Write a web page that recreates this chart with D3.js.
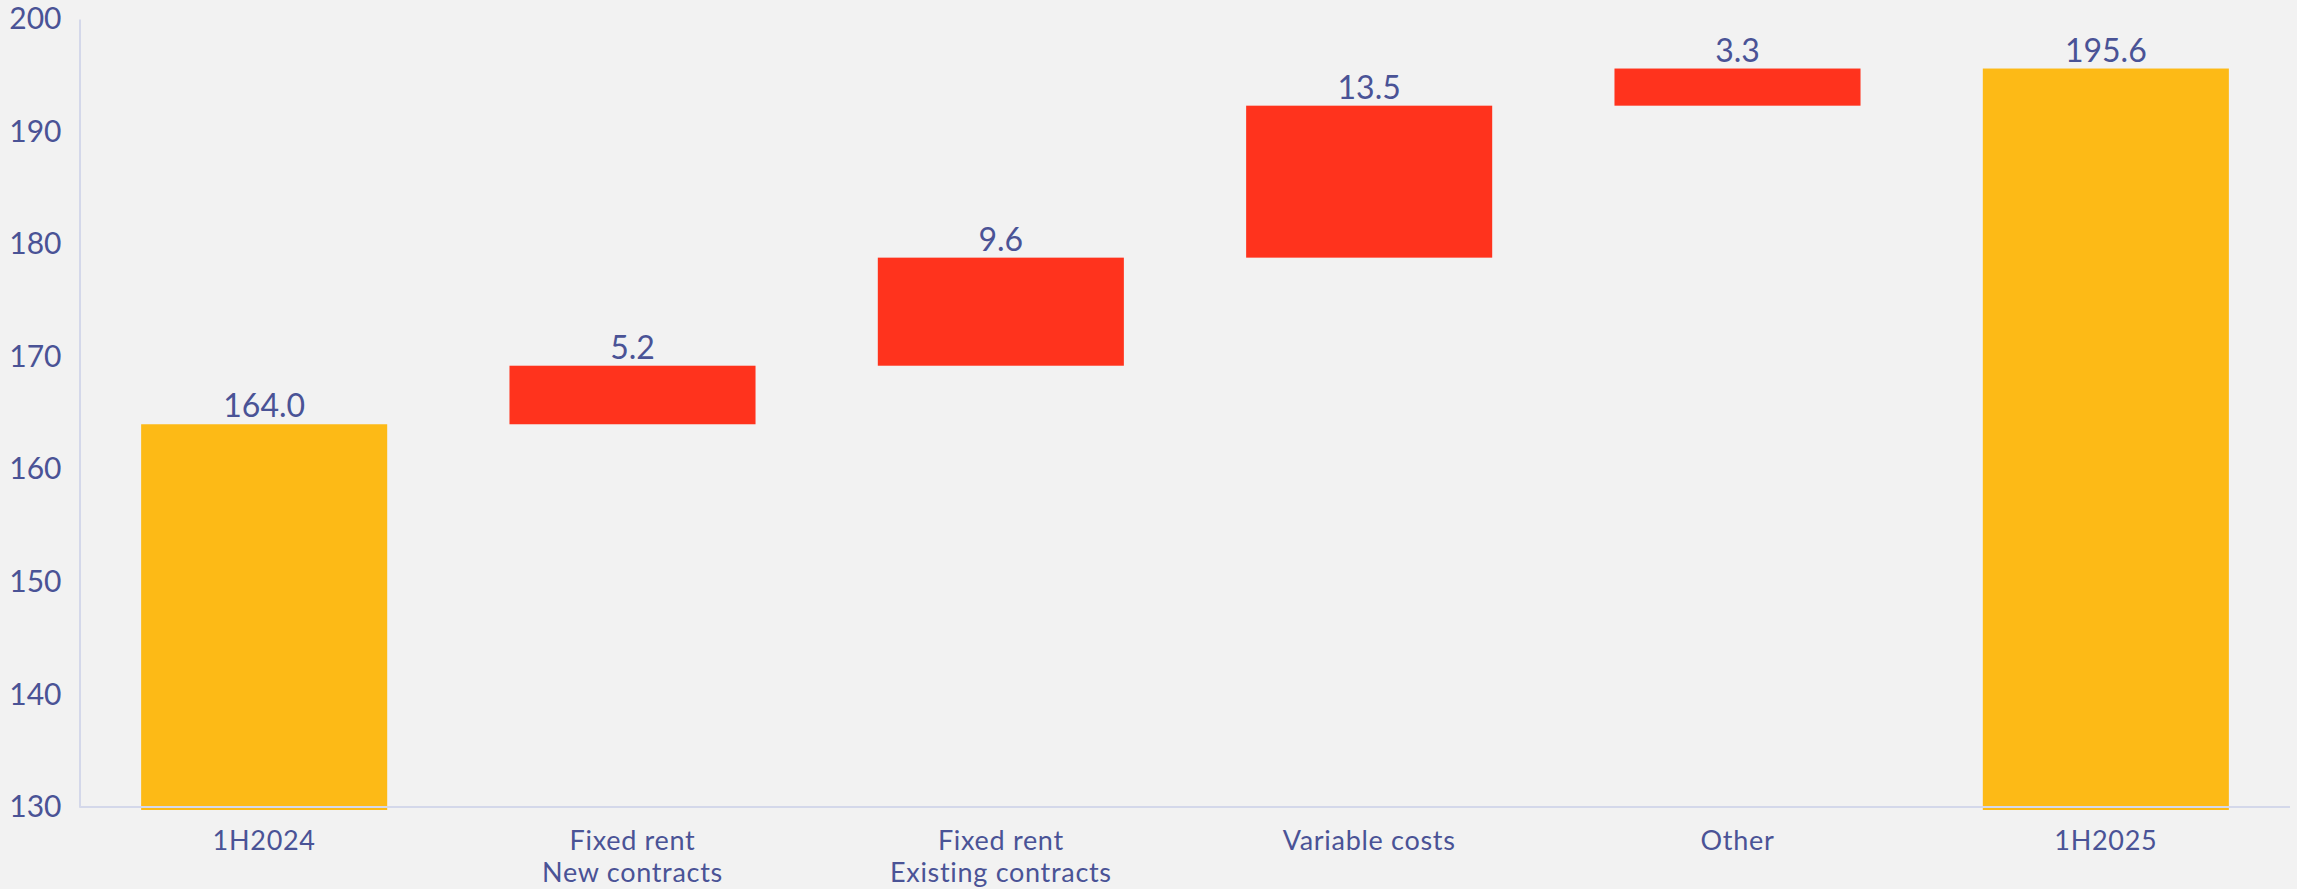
<!DOCTYPE html>
<html><head><meta charset="utf-8">
<script src="https://cdn.jsdelivr.net/npm/d3@7"></script>
<style>html,body{margin:0;padding:0;background:#f2f2f2;overflow:hidden}</style>
</head><body><svg id="c" width="2297" height="889"></svg>
<script>
const categories = [["1H2024"], ["Fixed rent", "New contracts"], ["Fixed rent", "Existing contracts"], ["Variable costs"], ["Other"], ["1H2025"]];
const values = [164.0, 5.2, 9.6, 13.5, 3.3, 195.6];
const kinds = ["total", "delta", "delta", "delta", "delta", "total"];
const yTicks = [130, 140, 150, 160, 170, 180, 190, 200];
const yDomain = [130, 200];

const COLORS = { total: "#FDBA16", delta: "#FF331D", text: "#4A5396", axis: "#D4D8EA", bg: "#F2F2F2" };
const FONT = "Lato, 'Open Sans', sans-serif";

const svg = d3.select("#c");
svg.append("rect").attr("width", 2297).attr("height", 889).attr("fill", COLORS.bg);

const x = d3.scaleBand().domain(d3.range(values.length)).range([80, 2290]).paddingInner(0.332).paddingOuter(0.166);
const y = d3.scaleLinear().domain(yDomain).range([807, 19]);

// compute waterfall segments
let run = 0;
const segs = values.map((v, i) => {
  let lo, hi;
  if (kinds[i] === "total") { lo = yDomain[0]; hi = v; run = v; }
  else { lo = run; hi = run + v; run = hi; }
  return { i, v, lo, hi, kind: kinds[i] };
});

svg.append("g").selectAll("rect").data(segs).join("rect")
  .attr("x", d => x(d.i))
  .attr("width", x.bandwidth())
  .attr("y", d => y(d.hi))
  .attr("height", d => y(d.lo) - y(d.hi) + (d.kind === "total" ? 3 : 0))
  .attr("fill", d => COLORS[d.kind]);

// value labels
svg.append("g").selectAll("text").data(segs).join("text")
  .attr("x", d => x(d.i) + x.bandwidth() / 2)
  .attr("y", d => y(d.hi) - 7)
  .attr("text-anchor", "middle")
  .attr("font-family", FONT).attr("font-size", 32)
  .attr("fill", COLORS.text)
  .text(d => d.v.toFixed(1));

// y axis
const gy = svg.append("g").attr("transform", "translate(79.5,0)")
  .call(d3.axisLeft(y).tickValues(yTicks).tickSize(0).tickSizeOuter(0).tickPadding(18));
gy.select(".domain").attr("stroke", COLORS.axis).attr("stroke-width", 2);
gy.selectAll("text").attr("font-family", FONT).attr("font-size", 30).attr("fill", COLORS.text);

// x axis
const gx = svg.append("g").attr("transform", "translate(0,807)")
  .call(d3.axisBottom(x).tickSize(0).tickSizeOuter(0).tickFormat(""));
gx.select(".domain").attr("stroke", COLORS.axis).attr("stroke-width", 2).attr("d", "M79.5,0H2290");
gx.selectAll(".tick text").each(function(d) {
  const t = d3.select(this).attr("y", 0).attr("dy", null)
    .attr("font-family", FONT).attr("font-size", 27)
    .attr("letter-spacing", "0.7px").attr("fill", COLORS.text);
  categories[d].forEach((line, k) => {
    t.append("tspan").attr("x", 0).attr("y", 43 + k * 32).text(line);
  });
});
</script></body></html>
